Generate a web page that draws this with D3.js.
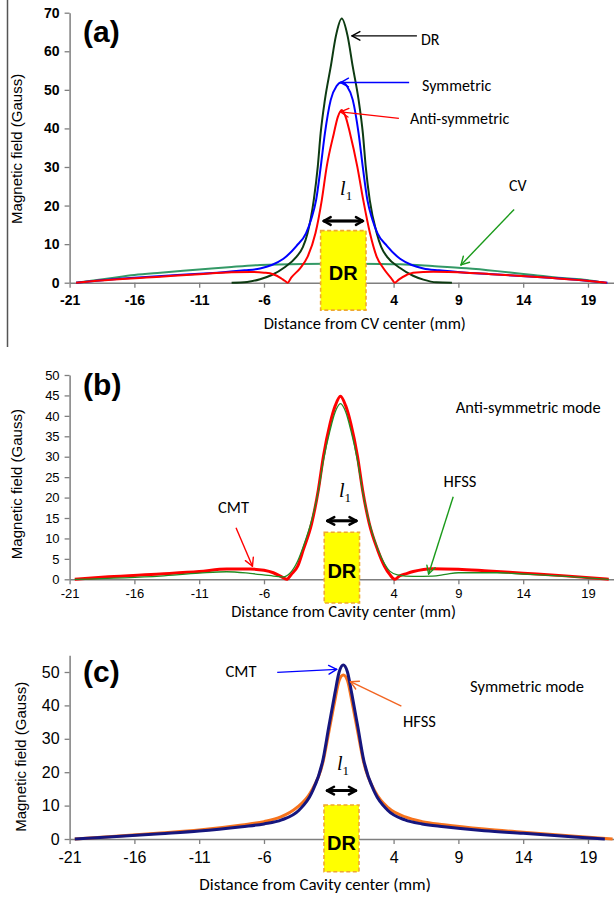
<!DOCTYPE html>
<html>
<head>
<meta charset="utf-8">
<script src="https://cdn.jsdelivr.net/npm/d3@7"></script>
<style>
  body { margin: 0; background: #fff; }
  svg { display: block; }
</style>
</head>
<body>
<div id="graph"></div>
<script>
// ---- data ----
const xTicks = [-21, -16, -11, -6, 4, 9, 14, 19];
const yTicksA = [0, 10, 20, 30, 40, 50, 60, 70];
const yTicksB = [0, 5, 10, 15, 20, 25, 30, 35, 40, 45, 50];
const yTicksC = [0, 10, 20, 30, 40, 50];

// panel (a)
const drX = [-8.5, -7.3, -6.3, -5.4, -4.4, -3.5, -3.0, -2.64, -2.16, -1.85, -1.63, -1.3, -0.85, -0.45, 0, 0.45, 0.85, 1.3, 1.63, 1.85, 2.16, 2.7, 3.05, 3.5, 4.5, 5.5, 6.3, 7.3, 8.5];
const drY = [0, 0.2, 0.9, 2.0, 4.0, 6.7, 9.2, 12.8, 21.4, 30.1, 38.7, 47.4, 56, 64, 68.5, 64, 56, 47.4, 38.7, 30.1, 21.4, 12.8, 9.2, 6.7, 3.8, 1.8, 0.8, 0.1, 0];
const symX = [-20.5, -18.9, -14.8, -11, -9.6, -7.5, -6.3, -5.4, -4.5, -3.5, -2.76, -2.35, -1.98, -1.62, -1.3, -0.85, -0.4, 0, 0.4, 0.85, 1.3, 1.62, 1.98, 2.35, 2.76, 3.5, 4.5, 5.4, 6.3, 7.5, 9.6, 11, 14.8, 18.9, 20.5];
const symY = [0, 0.52, 1.56, 2.3, 2.6, 3.2, 3.7, 4.6, 6.2, 9.5, 12.8, 16.5, 21.4, 30.1, 38.7, 47.4, 51, 52, 51, 47.4, 38.7, 30.1, 21.4, 16.5, 12.8, 9.5, 6.2, 4.6, 3.7, 3.2, 2.6, 2.3, 1.56, 0.52, 0];
const antiX = [-20.5, -18.9, -14, -11, -8.5, -7, -6, -5.3, -4.7, -4.4, -4.17, -3.9, -3.2, -2.64, -2.03, -1.54, -1.16, -0.61, -0.3, 0, 0.3, 0.64, 1.2, 1.66, 2.18, 2.7, 3.2, 3.85, 4.1, 4.4, 5.0, 5.5, 7.06, 9.64, 11.5, 14.78, 18.9, 20.44];
const antiY = [0, 0.5, 1.56, 2.2, 2.7, 2.8, 2.6, 2.2, 1.2, 0.5, 0, 1.3, 3.8, 6.7, 12.8, 21.4, 30.1, 38.7, 43, 44.8, 43, 38.7, 30.1, 21.4, 12.8, 6.7, 3.8, 1.0, 0, 0.8, 2.0, 2.6, 2.85, 2.6, 2.2, 1.56, 0.52, 0];
const cvX = [-20.5, -18, -16, -14, -11, -8.5, -6.3, -3, 0, 3, 4.5, 7, 9.64, 12, 14.78, 17, 18.9, 20.2];
const cvY = [0, 1.1, 2.0, 2.6, 3.4, 4.1, 4.6, 4.85, 4.9, 4.85, 4.76, 4.3, 3.73, 3.0, 2.0, 1.2, 0.7, 0];

// panel (b) anti-symmetric mode
const cmtBX = [-20.6, -18, -14, -11, -8.88, -7.08, -6, -5.28, -4.7, -4.25, -3.9, -3.4, -2.97, -2.32, -1.81, -1.42, -0.9, -0.5, -0.1, 0.3, 0.7, 1.22, 1.61, 2.12, 2.77, 3.3, 3.7, 4.1, 4.45, 5.0, 5.52, 7, 9, 11, 14, 17, 20.6];
const cmtBY = [0, 0.6, 1.3, 1.9, 2.5, 2.5, 2.2, 1.6, 0.7, 0, 1.2, 3.2, 7.2, 13.7, 21.8, 30, 38.1, 42.5, 44.8, 42.5, 38.1, 30, 21.8, 13.7, 7.2, 3.2, 1.2, 0, 0.8, 1.4, 1.9, 2.6, 2.45, 2.1, 1.5, 0.9, 0];
const hfssBX = [-20.6, -14, -11, -8.88, -7.08, -5.28, -4.5, -4, -3.4, -2.97, -2.32, -1.81, -1.42, -0.9, -0.5, -0.1, 0.3, 0.7, 1.22, 1.61, 2.12, 2.77, 3.3, 3.7, 4.3, 5.5, 7, 8, 9, 12, 14, 17, 20.6];
const hfssBY = [0, 0.8, 1.5, 1.85, 1.45, 0.8, 0.6, 1.5, 4.5, 8, 14.5, 21.5, 29, 36.5, 41, 43, 41, 36.5, 29, 21.5, 14, 7.5, 3.8, 2, 1.1, 0.7, 0.8, 1.2, 1.6, 1.6, 1.3, 0.8, 0];

// panel (c) symmetric mode
const cmtCX = [-20.6, -18, -14, -11, -7.7, -6, -4.64, -3.28, -2.33, -1.45, -1.0, -0.53, -0.2, 0.12, 0.44, 0.77, 1.24, 1.69, 2.57, 3.52, 4.88, 6.2, 7.9, 11, 14, 18, 20.3];
const cmtCY = [0, 0.6, 1.6, 2.4, 3.7, 4.5, 5.7, 8.7, 13.7, 23.7, 33.6, 43.6, 50, 52.1, 50, 43.6, 33.6, 23.7, 13.7, 8.7, 5.7, 4.5, 3.7, 2.5, 1.7, 0.6, 0];
const hfssCX = [-20.6, -18, -14, -11, -7.7, -6, -4.7, -3.5, -2.4, -1.45, -1.0, -0.53, -0.2, 0.12, 0.44, 0.77, 1.24, 1.69, 2.6, 3.6, 4.9, 6.2, 7.9, 11, 14, 18, 20.9];
const hfssCY = [0, 0.7, 1.8, 2.7, 4.2, 5.2, 6.6, 9.3, 14, 23, 32, 41.5, 47.5, 49.1, 47.5, 41.5, 32, 23, 14, 9.3, 6.6, 5.2, 4.3, 3.0, 2.0, 0.8, 0];

// ---- drawing ----
const W = 614, H = 898;
const labelFont = "Carlito, Lato, 'Liberation Sans', sans-serif";
const axisFont = "'Liberation Sans', Arial, sans-serif";

const svg = d3.select("#graph").append("svg")
    .attr("width", W)
    .attr("height", H);

const x = d3.scaleLinear().domain([-21, 21]).range([69.6, 613.9]);

// stray frame line at the far left of the figure
svg.append("line")
    .attr("x1", 7.5).attr("x2", 7.5)
    .attr("y1", 0).attr("y2", 347)
    .attr("stroke", "#555").attr("stroke-width", 1.5);

function zip(xs, ys) { return xs.map((v, i) => [v, ys[i]]); }

// open arrow head at the end (x2, y2)
function arrow(g, x1, y1, x2, y2, color, width, len) {
  g.append("line")
      .attr("x1", x1).attr("y1", y1).attr("x2", x2).attr("y2", y2)
      .attr("stroke", color).attr("stroke-width", width);
  let a = Math.atan2(y1 - y2, x1 - x2);
  [0.5, -0.5].forEach(function (da) {
    g.append("line")
        .attr("x1", x2).attr("y1", y2)
        .attr("x2", x2 + len * Math.cos(a + da))
        .attr("y2", y2 + len * Math.sin(a + da))
        .attr("stroke", color).attr("stroke-width", width)
        .attr("stroke-linecap", "round");
  });
}

function drawPanel(p) {
  let y = d3.scaleLinear().domain(p.yDomain).range(p.yRange);
  let g = svg.append("g");

  // axes
  let xAxis = g.append("g")
      .attr("transform", "translate(0," + y(0) + ")")
      .call(d3.axisBottom(x).tickValues(xTicks).tickSize(5).tickSizeOuter(0)
          .tickPadding(p.xPad).tickFormat(d => String(d)));
  let yAxis = g.append("g")
      .attr("transform", "translate(" + x(-21) + ",0)")
      .call(d3.axisLeft(y).tickValues(p.yTicks).tickSize(5).tickSizeOuter(0)
          .tickPadding(5).tickFormat(d => String(d)));
  [xAxis, yAxis].forEach(function (ax) {
    ax.select(".domain").attr("stroke", "#7f7f7f").attr("stroke-width", 1.5);
    ax.selectAll(".tick line").attr("stroke", "#7f7f7f").attr("stroke-width", 1.3);
    ax.selectAll("text")
        .attr("fill", "#000")
        .style("font-family", axisFont)
        .style("font-size", p.tickSize + "px")
        .style("font-weight", p.tickWeight);
  });

  // curves
  let line = d3.line()
      .x(d => x(d[0]))
      .y(d => y(d[1]))
      .curve(d3.curveMonotoneX);
  p.series.forEach(function (s) {
    g.append("path")
        .datum(zip(s.xs, s.ys))
        .attr("d", line)
        .attr("fill", "none")
        .attr("stroke", s.color)
        .attr("stroke-width", s.width)
        .attr("stroke-linejoin", "round");
  });

  // dielectric resonator box
  let b = p.box;
  g.append("rect")
      .attr("x", x(b.x0)).attr("y", y(b.top))
      .attr("width", x(b.x1) - x(b.x0))
      .attr("height", y(b.bottom) - y(b.top))
      .attr("fill", "#ffff00")
      .attr("stroke", "#f0a830")
      .attr("stroke-width", 1.6)
      .attr("stroke-dasharray", "4,2.5");
  g.append("text")
      .attr("x", (x(b.x0) + x(b.x1)) / 2)
      .attr("y", y(b.textY))
      .attr("text-anchor", "middle")
      .style("font-family", axisFont)
      .style("font-weight", "bold")
      .style("font-size", "20px")
      .text("DR");

  // l1 double arrow
  let ax0 = x(b.x0) + 3, ax1 = x(b.x1) - 3, ay = y(b.arrowY);
  g.append("line").attr("x1", ax0).attr("x2", ax1).attr("y1", ay).attr("y2", ay)
      .attr("stroke", "#000").attr("stroke-width", 2.5);
  arrow(g, ax1, ay, ax0, ay, "#000", 2.5, 8);
  arrow(g, ax0, ay, ax1, ay, "#000", 2.5, 8);
  let l1 = g.append("text")
      .attr("x", x(p.l1[0])).attr("y", y(p.l1[1]))
      .style("font-family", "'Liberation Serif', 'Times New Roman', serif")
      .style("font-style", "italic")
      .style("font-size", "20px");
  l1.append("tspan").text("l");
  l1.append("tspan").attr("dy", 5).style("font-size", "13px").style("font-style", "normal").text("1");

  // pointer arrows
  p.arrows.forEach(function (a) {
    arrow(g, x(a.from[0]), y(a.from[1]), x(a.to[0]), y(a.to[1]), a.color, 1.4, 9);
  });

  // annotation texts
  p.texts.forEach(function (t) {
    g.append("text")
        .attr("x", x(t.at[0])).attr("y", y(t.at[1]))
        .style("font-family", labelFont)
        .style("font-size", t.size + "px")
        .text(t.text);
  });

  // panel letter
  g.append("text")
      .attr("x", x(p.letterAt[0])).attr("y", y(p.letterAt[1]))
      .style("font-family", axisFont)
      .style("font-weight", "bold")
      .style("font-size", "30px")
      .text(p.letter);

  // axis titles
  g.append("text")
      .attr("x", x(p.xTitleAt[0])).attr("y", y(p.xTitleAt[1]))
      .attr("text-anchor", "middle")
      .style("font-family", labelFont)
      .style("font-size", p.xTitleSize + "px")
      .text(p.xTitle);
  g.append("text")
      .attr("transform", "translate(" + x(p.yTitleAt[0]) + "," + y(p.yTitleAt[1]) + ") rotate(-90)")
      .attr("dy", "0.35em")
      .attr("text-anchor", "middle")
      .style("font-family", axisFont)
      .style("font-size", "15px")
      .text("Magnetic field (Gauss)");
}

drawPanel({
  yDomain: [0, 70], yRange: [282.7, 12.7], yTicks: yTicksA,
  xPad: 7, tickSize: 14, tickWeight: "bold",
  series: [
    { xs: cvX, ys: cvY, color: "#339966", width: 2 },
    { xs: drX, ys: drY, color: "#0d3b12", width: 2 },
    { xs: symX, ys: symY, color: "#0000ff", width: 2 },
    { xs: antiX, ys: antiY, color: "#ff0000", width: 2 }
  ],
  box: { x0: -1.63, x1: 1.87, top: 13.5, bottom: -7.1, textY: 0.7, arrowY: 16 },
  l1: [-0.13, 22.7],
  arrows: [
    { from: [5.8, 64], to: [0.79, 64], color: "#000" },
    { from: [5.2, 51.9], to: [-0.09, 51.9], color: "#0000ff" },
    { from: [4.41, 42.6], to: [-0.09, 44.3], color: "#ff0000" },
    { from: [13.3, 19.0], to: [9.2, 4.6], color: "#1a9a1a" }
  ],
  texts: [
    { text: "DR", at: [6.11, 61.6], size: 16 },
    { text: "Symmetric", at: [6.19, 49.7], size: 16 },
    { text: "Anti-symmetric", at: [5.26, 41.1], size: 16 },
    { text: "CV", at: [12.9, 23.8], size: 16 }
  ],
  letter: "(a)", letterAt: [-19.96, 62.4],
  xTitle: "Distance from CV center (mm)", xTitleAt: [1.78, -11.9], xTitleSize: 16.5,
  yTitleAt: [-25.1, 34.7]
});

drawPanel({
  yDomain: [0, 50], yRange: [579.3, 375], yTicks: yTicksB,
  xPad: 4.5, tickSize: 13, tickWeight: "normal",
  series: [
    { xs: cmtBX, ys: cmtBY, color: "#ff0000", width: 3 },
    { xs: hfssBX, ys: hfssBY, color: "#228b22", width: 1.3 }
  ],
  box: { x0: -1.35, x1: 1.37, top: 11.5, bottom: -5.8, textY: 0.3, arrowY: 14.3 },
  l1: [-0.22, 20.1],
  arrows: [
    { from: [-8.16, 12.6], to: [-6.89, 3.2], color: "#ff0000" },
    { from: [8.6, 20.2], to: [6.7, 1.3], color: "#1a9a1a" }
  ],
  texts: [
    { text: "Anti-symmetric mode", at: [8.8, 40.6], size: 16.5 },
    { text: "CMT", at: [-9.55, 16.2], size: 16.5 },
    { text: "HFSS", at: [7.86, 22.6], size: 16.5 }
  ],
  letter: "(b)", letterAt: [-19.96, 45.1],
  xTitle: "Distance from Cavity center (mm)", xTitleAt: [0.14, -9.2], xTitleSize: 16.5,
  yTitleAt: [-25.1, 23.3]
});

drawPanel({
  yDomain: [0, 55], yRange: [839, 655.3], yTicks: yTicksC,
  xPad: 8, tickSize: 16, tickWeight: "normal",
  series: [
    { xs: hfssCX, ys: hfssCY, color: "#f7731c", width: 3 },
    { xs: cmtCX, ys: cmtCY, color: "#16167e", width: 3 }
  ],
  box: { x0: -1.37, x1: 1.33, top: 10.2, bottom: -9.8, textY: -3.3, arrowY: 14.5 },
  l1: [-0.37, 20.7],
  arrows: [
    { from: [-4.98, 49.9], to: [-0.39, 50.8], color: "#0000ff" },
    { from: [4.6, 39.8], to: [0.67, 47.1], color: "#f26522" }
  ],
  texts: [
    { text: "CMT", at: [-8.97, 48.5], size: 16.5 },
    { text: "HFSS", at: [4.73, 33.5], size: 16.5 },
    { text: "Symmetric mode", at: [9.9, 44], size: 16.5 }
  ],
  letter: "(c)", letterAt: [-19.96, 47.0],
  xTitle: "Distance from Cavity center (mm)", xTitleAt: [-2.06, -15.3], xTitleSize: 17,
  yTitleAt: [-24.75, 24.6]
});
</script>
</body>
</html>
